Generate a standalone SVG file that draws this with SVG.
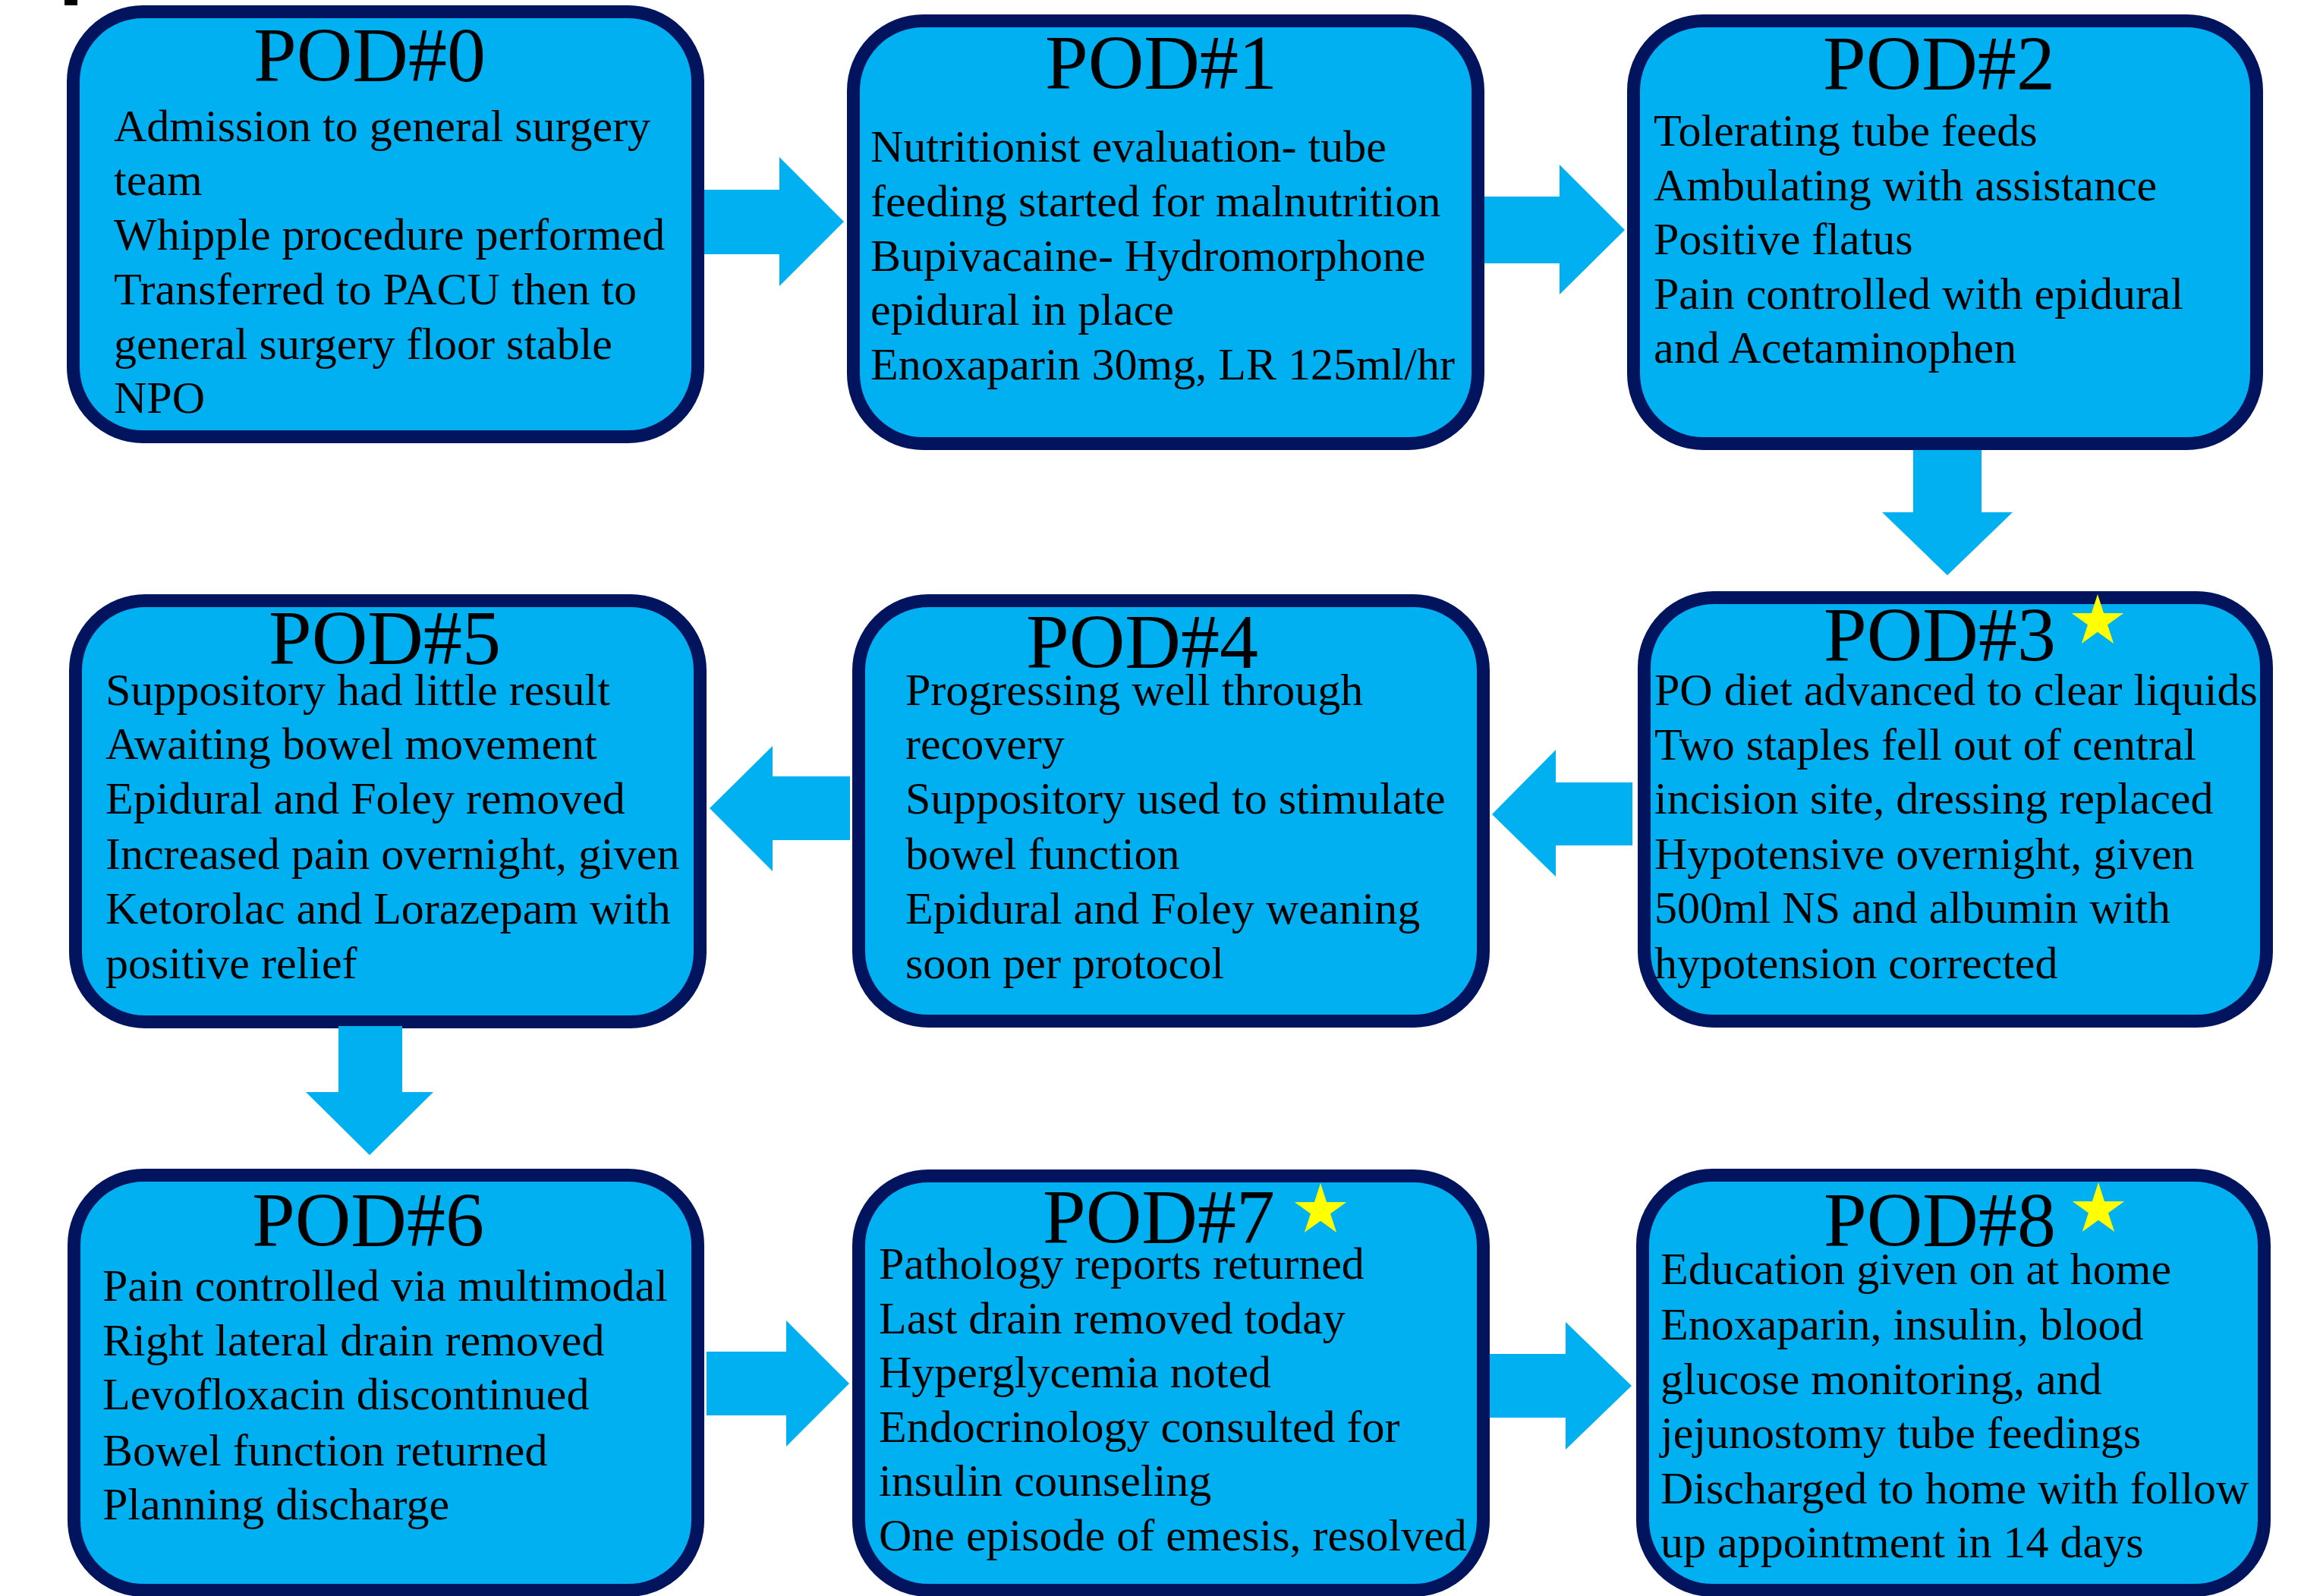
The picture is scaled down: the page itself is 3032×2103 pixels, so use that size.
<svg xmlns="http://www.w3.org/2000/svg" width="3032" height="2103" viewBox="0 0 3032 2103">
<style>
.box{fill:#00B0F0;stroke:#03145F;stroke-width:17}
.arr{fill:#00B0F0}
text{font-family:"Liberation Serif","Times New Roman",serif;fill:#000}
.h{font-size:102px;text-anchor:middle}
.b{font-size:60px}
.star{fill:#FFFF00}
</style>
<defs>
<path id="star" d="M0,-36 L8.08,-11.12 L34.24,-11.12 L13.08,4.25 L21.16,29.12 L0,13.75 L-21.16,29.12 L-13.08,4.25 L-34.24,-11.12 L-8.08,-11.12 Z"/>
</defs>
<rect width="3032" height="2103" fill="#fff"/>
<rect x="85" y="0" width="17" height="7" fill="#000"/>

<g id="pod0">
<rect class="box" x="96.5" y="15.5" width="823" height="560" rx="92"/>
<text class="h" x="487" y="107">POD#0</text>
<text class="b" x="150" y="186">Admission to general surgery</text>
<text class="b" x="150" y="257">team</text>
<text class="b" x="150" y="329">Whipple procedure performed</text>
<text class="b" x="150" y="401">Transferred to PACU then to</text>
<text class="b" x="150" y="473">general surgery floor stable</text>
<text class="b" x="150" y="544">NPO</text>
</g>

<g id="pod1">
<rect class="box" x="1124.5" y="27.5" width="823" height="557" rx="92"/>
<text class="h" x="1530" y="117">POD#1</text>
<text class="b" x="1147" y="213">Nutritionist evaluation- tube</text>
<text class="b" x="1147" y="285">feeding started for malnutrition</text>
<text class="b" x="1147" y="357">Bupivacaine- Hydromorphone</text>
<text class="b" x="1147" y="428">epidural in place</text>
<text class="b" x="1147" y="500">Enoxaparin 30mg, LR 125ml/hr</text>
</g>

<g id="pod2">
<rect class="box" x="2152.5" y="27.5" width="821" height="557" rx="92"/>
<text class="h" x="2555" y="118">POD#2</text>
<text class="b" x="2179" y="192">Tolerating tube feeds</text>
<text class="b" x="2179" y="264">Ambulating with assistance</text>
<text class="b" x="2179" y="335">Positive flatus</text>
<text class="b" x="2179" y="407">Pain controlled with epidural</text>
<text class="b" x="2179" y="478">and Acetaminophen</text>
</g>

<g id="pod3">
<rect class="box" x="2166.5" y="787.5" width="820" height="558" rx="92"/>
<text class="h" x="2556" y="871">POD#3</text>
<use href="#star" class="star" x="2764" y="819"/>
<text class="b" x="2180" y="929">PO diet advanced to clear liquids</text>
<text class="b" x="2180" y="1001">Two staples fell out of central</text>
<text class="b" x="2180" y="1072">incision site, dressing replaced</text>
<text class="b" x="2180" y="1145">Hypotensive overnight, given</text>
<text class="b" x="2180" y="1216">500ml NS and albumin with</text>
<text class="b" x="2180" y="1289">hypotension corrected</text>
</g>

<g id="pod4">
<rect class="box" x="1131.5" y="791.5" width="823" height="554" rx="92"/>
<text class="h" x="1505" y="880">POD#4</text>
<text class="b" x="1193" y="929">Progressing well through</text>
<text class="b" x="1193" y="1000">recovery</text>
<text class="b" x="1193" y="1072">Suppository used to stimulate</text>
<text class="b" x="1193" y="1145">bowel function</text>
<text class="b" x="1193" y="1217">Epidural and Foley weaning</text>
<text class="b" x="1193" y="1289">soon per protocol</text>
</g>

<g id="pod5">
<rect class="box" x="99.5" y="791.5" width="823" height="555" rx="92"/>
<text class="h" x="507" y="875">POD#5</text>
<text class="b" x="139" y="929">Suppository had little result</text>
<text class="b" x="139" y="1000">Awaiting bowel movement</text>
<text class="b" x="139" y="1072">Epidural and Foley removed</text>
<text class="b" x="139" y="1145">Increased pain overnight, given</text>
<text class="b" x="139" y="1217">Ketorolac and Lorazepam with</text>
<text class="b" x="139" y="1289">positive relief</text>
</g>

<g id="pod6">
<rect class="box" x="97.5" y="1548.5" width="822" height="547" rx="92"/>
<text class="h" x="485" y="1642">POD#6</text>
<text class="b" x="135" y="1714">Pain controlled via multimodal</text>
<text class="b" x="135" y="1786">Right lateral drain removed</text>
<text class="b" x="135" y="1857">Levofloxacin discontinued</text>
<text class="b" x="135" y="1931">Bowel function returned</text>
<text class="b" x="135" y="2002">Planning discharge</text>
</g>

<g id="pod7">
<rect class="box" x="1131.5" y="1549.5" width="823" height="546" rx="92"/>
<text class="h" x="1527" y="1638">POD#7</text>
<use href="#star" class="star" x="1740" y="1595"/>
<text class="b" x="1158" y="1685">Pathology reports returned</text>
<text class="b" x="1158" y="1757">Last drain removed today</text>
<text class="b" x="1158" y="1828">Hyperglycemia noted</text>
<text class="b" x="1158" y="1900">Endocrinology consulted for</text>
<text class="b" x="1158" y="1971">insulin counseling</text>
<text class="b" x="1158" y="2043">One episode of emesis, resolved</text>
</g>

<g id="pod8">
<rect class="box" x="2164.5" y="1548.5" width="819" height="547" rx="92"/>
<text class="h" x="2556" y="1642">POD#8</text>
<use href="#star" class="star" x="2765" y="1594"/>
<text class="b" x="2188" y="1692">Education given on at home</text>
<text class="b" x="2188" y="1765">Enoxaparin, insulin, blood</text>
<text class="b" x="2188" y="1837">glucose monitoring, and</text>
<text class="b" x="2188" y="1908">jejunostomy tube feedings</text>
<text class="b" x="2188" y="1981">Discharged to home with follow</text>
<text class="b" x="2188" y="2052">up appointment in 14 days</text>
</g>

<g id="connectors">
<polygon class="arr" points="928,250 1027,250 1027,207 1112,292 1027,377 1027,335 928,335"/>
<polygon class="arr" points="1956,259 2055,259 2055,217 2141,303 2055,388 2055,347 1956,347"/>
<polygon class="arr" points="2521,593 2611,593 2611,675 2652,675 2566,758 2480,675 2521,675"/>
<polygon class="arr" points="2151,1031 2050,1031 2050,988 1966,1073 2050,1155 2050,1114 2151,1114"/>
<polygon class="arr" points="1120,1023 1018,1023 1018,983 935,1065 1018,1148 1018,1107 1120,1107"/>
<polygon class="arr" points="446,1352 530,1352 530,1439 571,1439 487,1522 403,1439 446,1439"/>
<polygon class="arr" points="931,1781 1036,1781 1036,1740 1119,1823 1036,1906 1036,1865 931,1865"/>
<polygon class="arr" points="1963,1784 2063,1784 2063,1742 2150,1826 2063,1910 2063,1868 1963,1868"/>
</g>
</svg>
